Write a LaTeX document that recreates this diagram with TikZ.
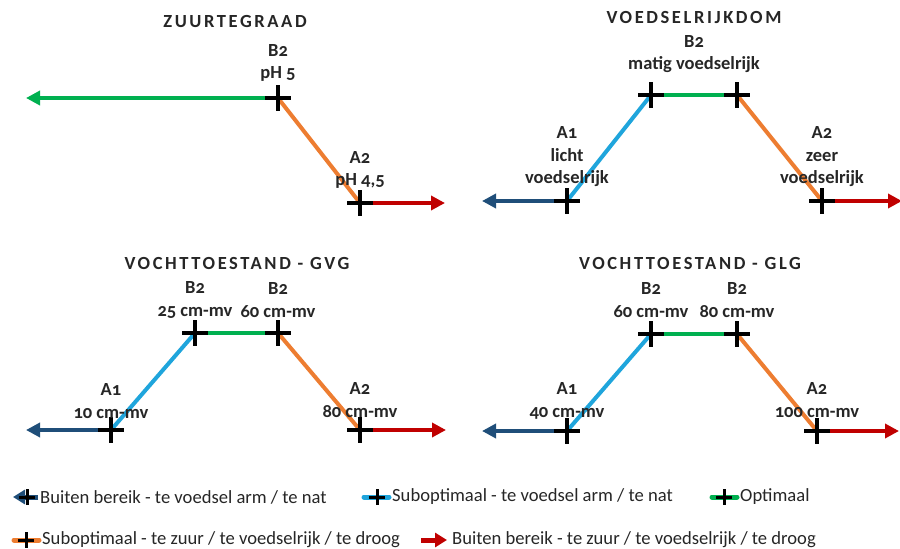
\documentclass[tikz,border=0pt]{standalone}
\usepackage{fontspec}
\setmainfont{Carlito}[Numbers=OldStyle]
\newfontfamily\titlefont{Carlito}[LetterSpace=14,Numbers=OldStyle]
\usetikzlibrary{arrows.meta,shapes.misc}
\definecolor{cgreen}{HTML}{00B050}
\definecolor{corange}{HTML}{ED7D31}
\definecolor{cred}{HTML}{C00000}
\definecolor{cblue}{HTML}{1FA5DC}
\definecolor{cdark}{HTML}{1F4E79}
\definecolor{ctext}{HTML}{262626}
\tikzset{
  seg/.style={line width=4pt},
  outarrow/.style={line width=4pt,-{Triangle[length=14pt,width=14pt]}},
  plusmark/.style={cross out,draw=black,line width=3.3pt,minimum size=15pt,inner sep=0pt,rotate=45},
  smallplus/.style={cross out,draw=black,line width=3pt,minimum size=8pt,inner sep=0pt,rotate=45},
  ttl/.style={font=\titlefont\bfseries\fontsize{18.5}{22}\selectfont,text=ctext},
  lbl/.style={font=\bfseries\fontsize{18.5}{22.5}\selectfont,text=ctext,align=center,inner sep=0pt},
  leg/.style={font=\fontsize{18.6}{22}\selectfont,text=ctext,anchor=west,inner sep=0pt},
  legline/.style={line width=5pt,line cap=round}
}
\begin{document}
\begin{tikzpicture}[x=1pt,y=-1pt]
\useasboundingbox (0,0) rectangle (900,549);
% ---------------- Panel 1: Zuurtegraad
\node[ttl] (t1) at (235,22) {ZUURTEGRAAD};
\coordinate (p1b) at (278,98);
\coordinate (p1a) at (360,203);
\coordinate (p1l) at (26,98);
\coordinate (p1r) at (445,203);
\draw[outarrow,cgreen] (p1b) -- (p1l);
\draw[seg,corange] (p1b) -- (p1a);
\draw[outarrow,cred] (p1a) -- (p1r);
\node[plusmark] (x1b) at (p1b) {};
\node[plusmark] (x1a) at (p1a) {};
\node[lbl] (l1b) at (278,63) {B2\\pH 5};
\node[lbl] (l1a) at (360,170) {A2\\pH 4,5};
% ---------------- Panel 2: Voedselrijkdom
\node[ttl] (t2) at (694,17) {VOEDSELRIJKDOM};
\coordinate (p2a1) at (567,201);
\coordinate (p2b1) at (651,95);
\coordinate (p2b2) at (737,95);
\coordinate (p2a2) at (822,201);
\coordinate (p2l) at (482,201);
\coordinate (p2r) at (902,201);
\draw[outarrow,cdark] (p2a1) -- (p2l);
\draw[seg,cblue] (p2a1) -- (p2b1);
\draw[seg,cgreen] (p2b1) -- (p2b2);
\draw[seg,corange] (p2b2) -- (p2a2);
\draw[outarrow,cred] (p2a2) -- (p2r);
\foreach \p in {p2a1,p2b1,p2b2,p2a2} \node[plusmark] (x\p) at (\p) {};
\node[lbl] (l2b) at (694,54) {B2\\matig voedselrijk};
\node[lbl] (l2a1) at (567,157) {A1\\licht\\voedselrijk};
\node[lbl] (l2a2) at (822,157) {A2\\zeer\\voedselrijk};
% ---------------- Panel 3: GVG
\node[ttl] (t3) at (237,263) {VOCHTTOESTAND - GVG};
\coordinate (p3a1) at (111,430);
\coordinate (p3b1) at (195,333);
\coordinate (p3b2) at (278,333);
\coordinate (p3a2) at (360,430);
\coordinate (p3l) at (26,430);
\coordinate (p3r) at (446,430);
\draw[outarrow,cdark] (p3a1) -- (p3l);
\draw[seg,cblue] (p3a1) -- (p3b1);
\draw[seg,cgreen] (p3b1) -- (p3b2);
\draw[seg,corange] (p3b2) -- (p3a2);
\draw[outarrow,cred] (p3a2) -- (p3r);
\foreach \p in {p3a1,p3b1,p3b2,p3a2} \node[plusmark] (x\p) at (\p) {};
\node[lbl] (l3b1) at (195,300) {B2\\25 cm-mv};
\node[lbl] (l3b2) at (278,300) {B2\\60 cm-mv};
\node[lbl] (l3a1) at (111,401) {A1\\10 cm-mv};
\node[lbl] (l3a2) at (360,400) {A2\\80 cm-mv};
% ---------------- Panel 4: GLG
\node[ttl] (t4) at (690,263) {VOCHTTOESTAND - GLG};
\coordinate (p4a1) at (567,431);
\coordinate (p4b1) at (651,334);
\coordinate (p4b2) at (737,334);
\coordinate (p4a2) at (817,431);
\coordinate (p4l) at (482,431);
\coordinate (p4r) at (899,431);
\draw[outarrow,cdark] (p4a1) -- (p4l);
\draw[seg,cblue] (p4a1) -- (p4b1);
\draw[seg,cgreen] (p4b1) -- (p4b2);
\draw[seg,corange] (p4b2) -- (p4a2);
\draw[outarrow,cred] (p4a2) -- (p4r);
\foreach \p in {p4a1,p4b1,p4b2,p4a2} \node[plusmark] (x\p) at (\p) {};
\node[lbl] (l4b1) at (651,300) {B2\\60 cm-mv};
\node[lbl] (l4b2) at (737,300) {B2\\80 cm-mv};
\node[lbl] (l4a1) at (567,401) {A1\\40 cm-mv};
\node[lbl] (l4a2) at (817,400) {A2\\100 cm-mv};
% ---------------- Legend
% row 1
\coordinate (k1s) at (38,497);
\coordinate (k1e) at (13,497);
\draw[line width=5pt,cdark,-{Triangle[length=12pt,width=14pt]}] (k1s) -- (k1e);
\node[smallplus] (k1p) at (27,497) {};
\node[leg] (k1t) at (40,497) {Buiten bereik - te voedsel arm / te nat};
\coordinate (k2s) at (364,497);
\coordinate (k2e) at (389,497);
\draw[legline,cblue] (k2s) -- (k2e);
\node[smallplus] (k2p) at (377,497) {};
\node[leg] (k2t) at (392,497) {Suboptimaal - te voedsel arm / te nat};
\coordinate (k3s) at (712,497);
\coordinate (k3e) at (737,497);
\draw[legline,cgreen] (k3s) -- (k3e);
\node[smallplus] (k3p) at (724,497) {};
\node[leg] (k3t) at (740,497) {Optimaal};
% row 2
\coordinate (k4s) at (14,540);
\coordinate (k4e) at (39,540);
\draw[legline,corange] (k4s) -- (k4e);
\node[smallplus] (k4p) at (26,540) {};
\node[leg] (k4t) at (42,540) {Suboptimaal - te zuur / te voedselrijk / te droog};
\coordinate (k5s) at (421,540);
\coordinate (k5e) at (447,540);
\draw[line width=5pt,cred,-{Triangle[length=12pt,width=14pt]}] (k5s) -- (k5e);
\node[leg] (k5t) at (452,540) {Buiten bereik - te zuur / te voedselrijk / te droog};
\end{tikzpicture}
\end{document}
